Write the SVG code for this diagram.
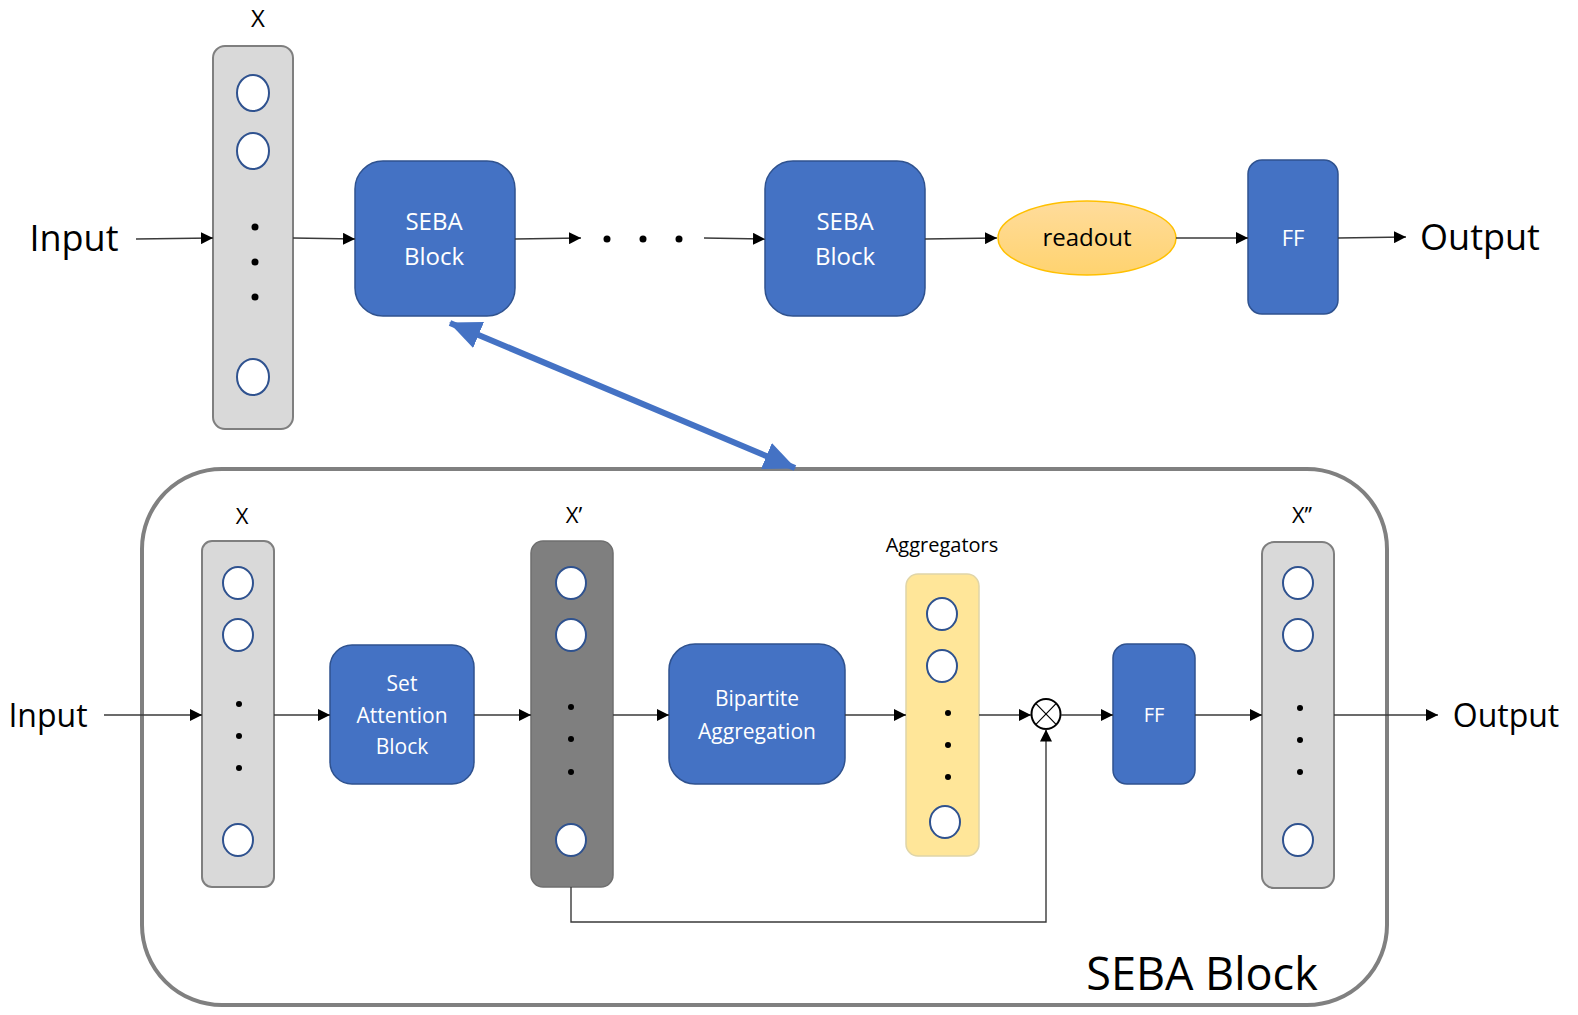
<svg xmlns="http://www.w3.org/2000/svg" width="1578" height="1015" viewBox="0 0 1578 1015">
<style>
text{font-family:"Open Sans","Noto Sans","Liberation Sans",sans-serif;fill:#000}
.w{fill:#fff}
.blk{fill:#4472c4;stroke:#2f528f;stroke-width:1.5}
.col{fill:#d9d9d9;stroke:#7f7f7f;stroke-width:2}
.cold{fill:#7f7f7f;stroke:#6f6f6f;stroke-width:1.5}
.coly{fill:#ffe699;stroke:#e0d5a8;stroke-width:1.5}
.nd{fill:#fff;stroke:#2f528f;stroke-width:2}
.dot{fill:#000}
.c{fill:none;stroke:#3a3a3a;stroke-width:1.4}
</style>
<defs>
<marker id="ah" markerUnits="userSpaceOnUse" markerWidth="12" markerHeight="12" viewBox="0 0 12 12" refX="12" refY="6" orient="auto">
<path d="M0,0 L12,6 L0,12 z" fill="#000"/>
</marker>
<marker id="big" markerUnits="userSpaceOnUse" markerWidth="32" markerHeight="28" viewBox="0 0 32 28" refX="31" refY="14" orient="auto-start-reverse">
<path d="M0,0 L32,14 L0,28 z" fill="#4472c4"/>
</marker>
<linearGradient id="ro" x1="0" y1="0" x2="0" y2="1">
<stop offset="0" stop-color="#ffdc9c"/>
<stop offset="1" stop-color="#ffd36f"/>
</linearGradient>
</defs>

<!-- ===== Top row ===== -->
<g id="top-input"><text x="74" y="251" font-size="36" text-anchor="middle">Input</text></g>
<g id="top-x">
<text x="258" y="27" font-size="24" text-anchor="middle">X</text>
<rect class="col" x="213" y="46" width="80" height="383" rx="12"/>
<ellipse class="nd" cx="253" cy="93" rx="16" ry="18"/>
<ellipse class="nd" cx="253" cy="151" rx="16" ry="18"/>
<circle class="dot" cx="255" cy="227" r="3.5"/>
<circle class="dot" cx="255" cy="262" r="3.5"/>
<circle class="dot" cx="255" cy="297" r="3.5"/>
<ellipse class="nd" cx="253" cy="377" rx="16" ry="18"/>
</g>
<g id="top-seba1">
<rect class="blk" x="355" y="161" width="160" height="155" rx="28"/>
<text class="w" x="434" y="230" font-size="24" text-anchor="middle">SEBA</text>
<text class="w" x="434" y="265" font-size="24" text-anchor="middle">Block</text>
</g>
<g id="top-ellipsis">
<circle class="dot" cx="607" cy="239" r="3.5"/>
<circle class="dot" cx="643" cy="239" r="3.5"/>
<circle class="dot" cx="679" cy="239" r="3.5"/>
</g>
<g id="top-seba2">
<rect class="blk" x="765" y="161" width="160" height="155" rx="28"/>
<text class="w" x="845" y="230" font-size="24" text-anchor="middle">SEBA</text>
<text class="w" x="845" y="265" font-size="24" text-anchor="middle">Block</text>
</g>
<g id="top-readout">
<ellipse cx="1087" cy="238" rx="89" ry="37" fill="url(#ro)" stroke="#ffc000" stroke-width="1.5"/>
<text x="1087" y="246" font-size="24" text-anchor="middle">readout</text>
</g>
<g id="top-ff">
<rect class="blk" x="1248" y="160" width="90" height="154" rx="14"/>
<text class="w" x="1293" y="246" font-size="22" text-anchor="middle">FF</text>
</g>
<g id="top-output"><text x="1480" y="250" font-size="36" text-anchor="middle">Output</text></g>

<!-- ===== Bottom: SEBA Block detail ===== -->
<g id="seba-frame">
<rect x="142" y="469" width="1245" height="536" rx="80" fill="none" stroke="#808080" stroke-width="4"/>
<text x="1202" y="990" font-size="45" text-anchor="middle">SEBA Block</text>
</g>
<g id="b-input"><text x="48" y="727" font-size="32" text-anchor="middle">Input</text></g>
<g id="b-x">
<text x="242" y="524" font-size="22" text-anchor="middle">X</text>
<rect class="col" x="202" y="541" width="72" height="346" rx="10"/>
<ellipse class="nd" cx="238" cy="583" rx="15" ry="16"/>
<ellipse class="nd" cx="238" cy="635" rx="15" ry="16"/>
<circle class="dot" cx="239" cy="704" r="3"/>
<circle class="dot" cx="239" cy="736" r="3"/>
<circle class="dot" cx="239" cy="768" r="3"/>
<ellipse class="nd" cx="238" cy="840" rx="15" ry="16"/>
</g>
<g id="b-sab">
<rect class="blk" x="330" y="645" width="144" height="139" rx="22"/>
<text class="w" x="402" y="691" font-size="21" text-anchor="middle">Set</text>
<text class="w" x="402" y="723" font-size="21" text-anchor="middle">Attention</text>
<text class="w" x="402" y="754" font-size="21" text-anchor="middle">Block</text>
</g>
<g id="b-xp">
<text x="574" y="523" font-size="22" text-anchor="middle">X’</text>
<rect class="cold" x="531" y="541" width="82" height="346" rx="12"/>
<ellipse class="nd" cx="571" cy="583" rx="15" ry="16"/>
<ellipse class="nd" cx="571" cy="635" rx="15" ry="16"/>
<circle class="dot" cx="571" cy="707" r="3"/>
<circle class="dot" cx="571" cy="739" r="3"/>
<circle class="dot" cx="571" cy="772" r="3"/>
<ellipse class="nd" cx="571" cy="840" rx="15" ry="16"/>
</g>
<g id="b-bip">
<rect class="blk" x="669" y="644" width="176" height="140" rx="26"/>
<text class="w" x="757" y="706" font-size="21" text-anchor="middle">Bipartite</text>
<text class="w" x="757" y="739" font-size="21" text-anchor="middle">Aggregation</text>
</g>
<g id="b-agg">
<text x="942" y="552" font-size="20" text-anchor="middle">Aggregators</text>
<rect class="coly" x="906" y="574" width="73" height="282" rx="12"/>
<ellipse class="nd" cx="942" cy="614" rx="15" ry="16"/>
<ellipse class="nd" cx="942" cy="666" rx="15" ry="16"/>
<circle class="dot" cx="948" cy="713" r="3"/>
<circle class="dot" cx="948" cy="745" r="3"/>
<circle class="dot" cx="948" cy="777" r="3"/>
<ellipse class="nd" cx="945" cy="822" rx="15" ry="16"/>
</g>
<g id="b-mul">
<ellipse cx="1046" cy="714" rx="14.5" ry="15" fill="#fff" stroke="#000" stroke-width="2"/>
<path d="M1035.7,703.4 L1056.3,724.6 M1056.3,703.4 L1035.7,724.6" stroke="#000" stroke-width="1.2"/>
</g>
<g id="b-ff">
<rect class="blk" x="1113" y="644" width="82" height="140" rx="14"/>
<text class="w" x="1154" y="722" font-size="20" text-anchor="middle">FF</text>
</g>
<g id="b-xpp">
<text x="1302" y="523" font-size="22" text-anchor="middle">X’’</text>
<rect class="col" x="1262" y="542" width="72" height="346" rx="12"/>
<ellipse class="nd" cx="1298" cy="583" rx="15" ry="16"/>
<ellipse class="nd" cx="1298" cy="635" rx="15" ry="16"/>
<circle class="dot" cx="1300" cy="708" r="3"/>
<circle class="dot" cx="1300" cy="740" r="3"/>
<circle class="dot" cx="1300" cy="772" r="3"/>
<ellipse class="nd" cx="1298" cy="840" rx="15" ry="16"/>
</g>
<g id="b-output"><text x="1506" y="727" font-size="32" text-anchor="middle">Output</text></g>

<!-- ===== Connectors ===== -->
<g id="connectors">
<line class="c" x1="136" y1="239" x2="213" y2="238" marker-end="url(#ah)"/>
<line class="c" x1="293" y1="238" x2="355" y2="239" marker-end="url(#ah)"/>
<line class="c" x1="515" y1="239" x2="581" y2="238" marker-end="url(#ah)"/>
<line class="c" x1="704" y1="238" x2="765" y2="239" marker-end="url(#ah)"/>
<line class="c" x1="925" y1="239" x2="997" y2="238" marker-end="url(#ah)"/>
<line class="c" x1="1176" y1="238" x2="1248" y2="238" marker-end="url(#ah)"/>
<line class="c" x1="1338" y1="238" x2="1406" y2="237" marker-end="url(#ah)"/>
<line x1="450" y1="323" x2="795" y2="468" stroke="#4472c4" stroke-width="6" marker-start="url(#big)" marker-end="url(#big)"/>
<line class="c" x1="104" y1="715" x2="202" y2="715" marker-end="url(#ah)"/>
<line class="c" x1="274" y1="715" x2="330" y2="715" marker-end="url(#ah)"/>
<line class="c" x1="474" y1="715" x2="531" y2="715" marker-end="url(#ah)"/>
<line class="c" x1="613" y1="715" x2="669" y2="715" marker-end="url(#ah)"/>
<line class="c" x1="845" y1="715" x2="906" y2="715" marker-end="url(#ah)"/>
<line class="c" x1="979" y1="715" x2="1031" y2="715" marker-end="url(#ah)"/>
<line class="c" x1="1061" y1="715" x2="1113" y2="715" marker-end="url(#ah)"/>
<line class="c" x1="1195" y1="715" x2="1262" y2="715" marker-end="url(#ah)"/>
<line class="c" x1="1334" y1="715" x2="1438" y2="715" marker-end="url(#ah)"/>
<polyline class="c" points="571,887 571,922 1046,922 1046,729.5" marker-end="url(#ah)"/>
</g>
</svg>
